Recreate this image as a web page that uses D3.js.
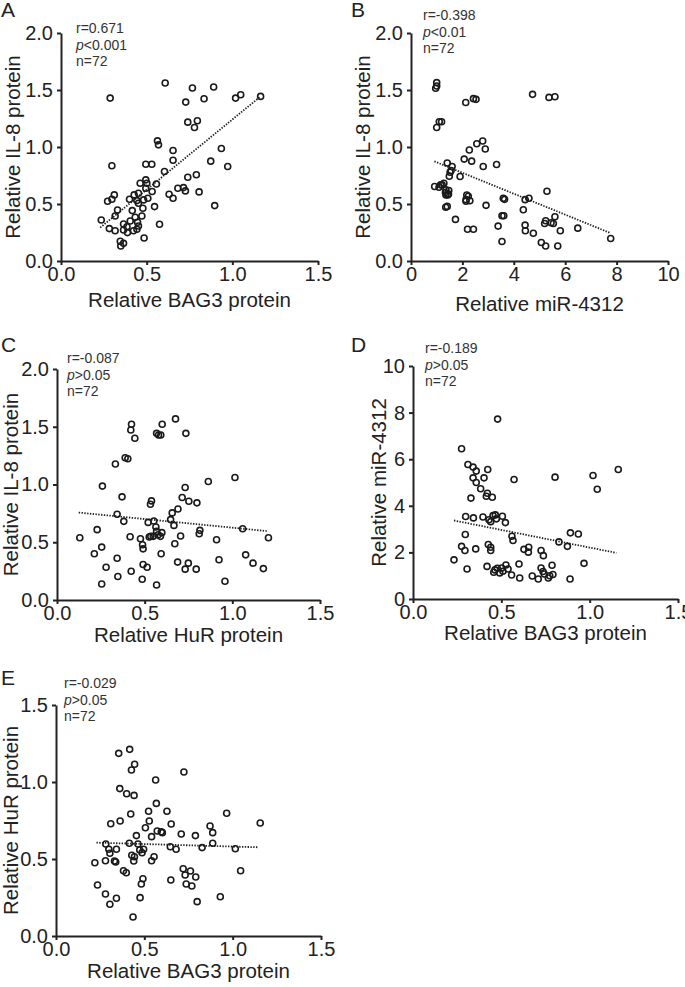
<!DOCTYPE html>
<html>
<head>
<meta charset="utf-8">
<script src="https://cdn.jsdelivr.net/npm/d3@7"></script>
<style>
  body { margin: 0; background: #fff; }
  svg { font-family: "Liberation Sans", Arial, sans-serif; }
  .axis path, .axis line { stroke: #222; stroke-width: 2; }
  .axis text { font-size: 20px; fill: #222; font-family: "Liberation Sans", Arial, sans-serif; }
</style>
</head>
<body>
<script>
// scatter data, [x, y]
var ptsA = [[0.608,1.561],[0.767,1.517],[0.891,1.526],[0.287,1.429],[0.728,1.394],[0.835,1.423],[1.019,1.429],[1.049,1.458],[1.165,1.444],
  [0.740,1.218],[0.796,1.230],[0.779,1.171],[0.563,1.054],[0.569,1.019],[0.654,0.969],[0.936,0.987],
  [0.654,0.884],[0.874,0.876],[0.973,0.829],[0.297,0.835],[0.495,0.849],[0.530,0.849],[0.604,0.785],
  [0.790,0.756],[0.740,0.735],[0.557,0.676],[0.462,0.682],[0.501,0.682],[0.495,0.638],[0.532,0.609],
  [0.682,0.638],[0.715,0.644],[0.726,0.615],[0.806,0.606],[0.631,0.586],[0.654,0.551],
  [0.311,0.580],[0.272,0.524],[0.297,0.542],[0.400,0.542],[0.427,0.580],[0.443,0.530],[0.482,0.536],[0.507,0.551],
  [0.452,0.507],[0.546,0.477],[0.897,0.486],[0.478,0.463],[0.330,0.448],[0.316,0.395],[0.433,0.384],[0.472,0.395],
  [0.235,0.360],[0.365,0.325],[0.404,0.351],[0.447,0.340],[0.575,0.322],
  [0.282,0.284],[0.316,0.266],[0.388,0.249],[0.365,0.272],[0.423,0.266],[0.443,0.278],[0.452,0.307],
  [0.485,0.202],[0.346,0.173],[0.365,0.155],[0.349,0.132],[0.452,0.594],[0.416,0.442],[0.495,0.712],[0.385,0.300]];

var ptsB = [[1.00,1.565],[1.00,1.535],[0.96,1.515],[2.13,1.391],[2.43,1.424],[2.53,1.418],[4.73,1.462],[5.37,1.435],[5.60,1.441],
  [1.00,1.171],[1.10,1.221],[1.19,1.221],[2.56,1.029],[2.79,1.053],[2.27,0.974],[2.89,0.982],
  [2.07,0.894],[2.36,0.876],[2.81,0.829],[3.33,0.847],[1.41,0.859],[1.60,0.829],[1.52,0.779],[1.49,0.744],[1.91,0.741],
  [0.92,0.653],[1.09,0.647],[1.28,0.682],[1.21,0.668],[1.36,0.624],[1.47,0.618],[1.43,0.579],[1.36,0.579],[1.46,0.588],
  [2.17,0.579],[2.14,0.538],[2.29,0.529],[2.14,0.524],[1.35,0.471],[1.41,0.479],[2.92,0.488],
  [3.59,0.550],[3.64,0.541],[4.44,0.538],[4.59,0.550],[5.29,0.612],[4.37,0.450],
  [1.73,0.365],[3.54,0.397],[3.61,0.397],[3.39,0.306],[2.20,0.279],[2.43,0.279],
  [4.44,0.315],[4.45,0.265],[4.76,0.244],[5.20,0.329],[5.24,0.353],[5.54,0.329],[5.60,0.388],[5.81,0.265],
  [6.49,0.288],[7.77,0.197],[3.54,0.171],[5.07,0.162],[5.24,0.132],[5.71,0.132],
  [1.15,0.668],[1.56,0.794],[2.23,0.568],[1.34,0.600],[5.45,0.335]];

var ptsC = [[0.676,1.568],[0.425,1.522],[0.421,1.472],[0.444,1.400],[0.600,1.522],[0.568,1.443],[0.592,1.429],[0.735,1.443],
  [0.333,1.177],[0.389,1.232],[0.404,1.223],[0.259,0.986],[0.371,0.893],[1.015,1.061],[0.863,1.026],[0.731,0.974],
  [0.714,0.887],[0.752,0.855],[0.798,0.841],[0.539,0.858],[0.533,0.829],[0.690,0.788],[0.657,0.754],[0.648,0.696],[0.667,0.646],
  [0.343,0.742],[0.381,0.681],[0.520,0.672],[0.552,0.684],[0.564,0.632],[0.568,0.594],[0.598,0.583],
  [0.815,0.603],[0.811,0.574],[1.059,0.617],[0.229,0.609],[0.130,0.539],[0.417,0.548],[0.476,0.530],[0.488,0.478],[0.491,0.443],
  [0.526,0.545],[0.549,0.551],[0.577,0.565],[0.705,0.554],[0.672,0.487],[0.910,0.522],[1.206,0.539],
  [0.255,0.458],[0.213,0.400],[0.343,0.362],[0.594,0.400],[0.924,0.348],[1.076,0.391],[1.118,0.319],[1.177,0.272],
  [0.280,0.284],[0.347,0.203],[0.423,0.249],[0.491,0.307],[0.514,0.284],[0.688,0.328],[0.749,0.319],[0.731,0.267],[0.794,0.267],
  [0.255,0.139],[0.486,0.180],[0.568,0.130],[0.958,0.162],[0.579,1.429],[0.590,0.551],[0.535,0.551]];

var ptsD = [[0.479,7.72],[0.275,6.45],[0.311,5.77],[0.340,5.66],[0.358,5.49],[0.423,5.56],
  [0.340,5.20],[0.358,5.00],[0.402,5.20],[0.383,4.73],[0.421,4.54],[0.415,4.41],[0.449,4.37],[0.328,4.33],
  [0.572,5.13],[0.804,5.23],[1.019,5.30],[1.043,4.71],[1.162,5.56],
  [0.298,3.54],[0.342,3.48],[0.396,3.52],[0.440,3.32],[0.466,3.61],[0.472,3.44],[0.506,3.55],[0.523,3.28],
  [0.560,2.69],[0.566,2.51],[0.296,2.77],[0.275,2.26],[0.294,2.08],[0.355,2.15],[0.426,2.34],[0.440,2.22],[0.440,2.08],
  [0.628,2.13],[0.655,2.22],[0.653,2.01],[0.725,2.08],[0.738,1.86],[0.826,2.45],[0.874,2.26],[0.891,2.84],[0.936,2.79],[0.968,1.53],
  [0.232,1.68],[0.306,1.29],[0.419,1.40],[0.457,1.15],[0.477,1.32],[0.491,1.12],[0.502,1.33],[0.526,1.46],[0.538,1.29],[0.558,1.03],
  [0.600,1.50],[0.604,0.90],[0.675,0.99],[0.709,0.86],[0.725,1.33],[0.743,1.07],[0.766,0.90],[0.787,1.45],[0.792,1.05],[0.889,0.86],
  [0.464,1.25],[0.509,1.19],[0.736,1.18],[0.774,1.00],[0.453,3.58],[0.430,3.40]];

var ptsE = [[0.417,1.212],[0.355,1.186],[0.445,1.115],[0.427,1.078],[0.724,1.065],[0.564,1.013],
  [0.361,0.957],[0.400,0.924],[0.442,0.913],[0.568,0.861],[0.423,0.792],[0.524,0.810],[0.628,0.810],[0.966,0.797],
  [0.310,0.729],[0.363,0.747],[0.528,0.747],[0.652,0.727],[1.156,0.734],
  [0.506,0.703],[0.573,0.682],[0.596,0.677],[0.602,0.671],[0.709,0.662],[0.789,0.652],[0.872,0.714],[0.887,0.671],[0.455,0.652],
  [0.282,0.597],[0.299,0.563],[0.342,0.563],[0.415,0.602],[0.464,0.597],[0.474,0.558],[0.487,0.541],[0.496,0.563],
  [0.887,0.602],[0.647,0.580],[0.680,0.563],[0.827,0.574],[1.015,0.567],[0.429,0.524],[0.555,0.515],
  [0.220,0.476],[0.280,0.489],[0.338,0.481],[0.440,0.487],[0.541,0.489],[0.382,0.424],[0.398,0.411],
  [0.720,0.437],[0.731,0.396],[0.761,0.422],[0.791,0.383],[1.045,0.424],
  [0.492,0.372],[0.483,0.338],[0.650,0.364],[0.737,0.338],[0.769,0.325],
  [0.235,0.331],[0.280,0.273],[0.342,0.245],[0.305,0.206],[0.476,0.249],[0.799,0.223],[0.930,0.255],[0.436,0.123],
  [0.331,0.487],[0.541,0.645],[0.444,0.515],[0.305,0.537]];

// dotted regression lines, end points
var fitA = [[0.229,0.293],[1.165,1.444]];
var fitB = [[0.91,0.874],[7.77,0.244]];
var fitC = [[0.124,0.757],[1.196,0.597]];
var fitD = [[0.232,3.37],[1.151,1.98]];
var fitE = [[0.229,0.606],[1.147,0.576]];

// tick values
var ticks15 = [0, 0.5, 1.0, 1.5];
var ticks20 = [0, 0.5, 1.0, 1.5, 2.0];
var ticks10 = [0, 2, 4, 6, 8, 10];

var statsA = ["r=0.671", "<0.001", "n=72"];
var statsB = ["r=-0.398", "<0.01", "n=72"];
var statsC = ["r=-0.087", ">0.05", "n=72"];
var statsD = ["r=-0.189", ">0.05", "n=72"];
var statsE = ["r=-0.029", ">0.05", "n=72"];

var panels = [
  {id: "A", pts: ptsA, fit: fitA, xd: [0, 1.5], yd: [0, 2], xt: ticks15, yt: ticks20, xf: ".1f", yf: ".1f",
   xTitle: "Relative BAG3 protein", yTitle: "Relative IL-8 protein", stats: statsA,
   x0: 61, x1: 318, yb: 261, ytop: 33, lx: 1, ly: 17, sx: 76, sy: 33, ytx: 20, xty: 307},
  {id: "B", pts: ptsB, fit: fitB, xd: [0, 10], yd: [0, 2], xt: ticks10, yt: ticks20, xf: "d", yf: ".1f",
   xTitle: "Relative miR-4312", yTitle: "Relative IL-8 protein", stats: statsB,
   x0: 411, x1: 668, yb: 261, ytop: 33, lx: 351, ly: 17, sx: 423, sy: 20, ytx: 370, xty: 311},
  {id: "C", pts: ptsC, fit: fitC, xd: [0, 1.5], yd: [0, 2], xt: ticks15, yt: ticks20, xf: ".1f", yf: ".1f",
   xTitle: "Relative HuR protein", yTitle: "Relative IL-8 protein", stats: statsC,
   x0: 57, x1: 320, yb: 600, ytop: 369, lx: 1, ly: 352, sx: 67, sy: 363, ytx: 18, xty: 642},
  {id: "D", pts: ptsD, fit: fitD, xd: [0, 1.5], yd: [0, 10], xt: ticks15, yt: ticks10, xf: ".1f", yf: "d",
   xTitle: "Relative BAG3 protein", yTitle: "Relative miR-4312", stats: statsD,
   x0: 413, x1: 678, yb: 599, ytop: 366, lx: 351, ly: 352, sx: 425, sy: 353, ytx: 386, xty: 640},
  {id: "E", pts: ptsE, fit: fitE, xd: [0, 1.5], yd: [0, 1.5], xt: ticks15, yt: ticks15, xf: ".1f", yf: ".1f",
   xTitle: "Relative BAG3 protein", yTitle: "Relative HuR protein", stats: statsE,
   x0: 56, x1: 321, yb: 936, ytop: 705, lx: 1, ly: 685, sx: 64, sy: 688, ytx: 18, xty: 978}
];

var svg = d3.select("body").append("svg")
    .attr("width", 685)
    .attr("height", 987);

panels.forEach(p => {
    var x = d3.scaleLinear().domain(p.xd).range([p.x0, p.x1]);
    var y = d3.scaleLinear().domain(p.yd).range([p.yb, p.ytop]);
    var g = svg.append("g");

    g.append("g").attr("class", "axis")
        .attr("transform", `translate(0,${p.yb})`)
        .call(d3.axisBottom(x).tickValues(p.xt).tickFormat(d3.format(p.xf))
            .tickSize(4).tickSizeOuter(0).tickPadding(2));

    g.append("g").attr("class", "axis")
        .attr("transform", `translate(${p.x0},0)`)
        .call(d3.axisLeft(y).tickValues(p.yt).tickFormat(d3.format(p.yf))
            .tickSize(4).tickSizeOuter(0).tickPadding(4));

    // dotted fit line
    g.append("path")
        .datum(p.fit)
        .attr("d", d3.line().x(d => x(d[0])).y(d => y(d[1])))
        .attr("fill", "none")
        .attr("stroke", "#222")
        .attr("stroke-width", 1.8)
        .attr("stroke-dasharray", "1.4,1.4");

    g.selectAll("circle.pt").data(p.pts).enter().append("circle")
        .attr("class", "pt")
        .attr("cx", d => x(d[0]))
        .attr("cy", d => y(d[1]))
        .attr("r", 3)
        .attr("fill", "none")
        .attr("stroke", "#1a1a1a")
        .attr("stroke-width", 1.6);

    // axis titles
    g.append("text")
        .attr("x", (p.x0 + p.x1) / 2)
        .attr("y", p.xty)
        .attr("text-anchor", "middle")
        .attr("font-size", 20.5)
        .attr("fill", "#222")
        .text(p.xTitle);

    g.append("text")
        .attr("transform", `translate(${p.ytx},${(p.yb + p.ytop) / 2}) rotate(-90)`)
        .attr("text-anchor", "middle")
        .attr("font-size", 20.5)
        .attr("fill", "#222")
        .text(p.yTitle);

    // panel letter
    g.append("text")
        .attr("x", p.lx)
        .attr("y", p.ly)
        .attr("font-size", 21)
        .attr("fill", "#222")
        .text(p.id);

    // stats block
    var st = g.append("text")
        .attr("font-size", 14)
        .attr("fill", "#333");
    st.append("tspan").attr("x", p.sx).attr("y", p.sy).text(p.stats[0]);
    var l2 = st.append("tspan").attr("x", p.sx).attr("y", p.sy + 16.5);
    l2.append("tspan").attr("font-style", "italic").text("p");
    l2.append("tspan").text(p.stats[1]);
    st.append("tspan").attr("x", p.sx).attr("y", p.sy + 33).text(p.stats[2]);
});
</script>
</body>
</html>
